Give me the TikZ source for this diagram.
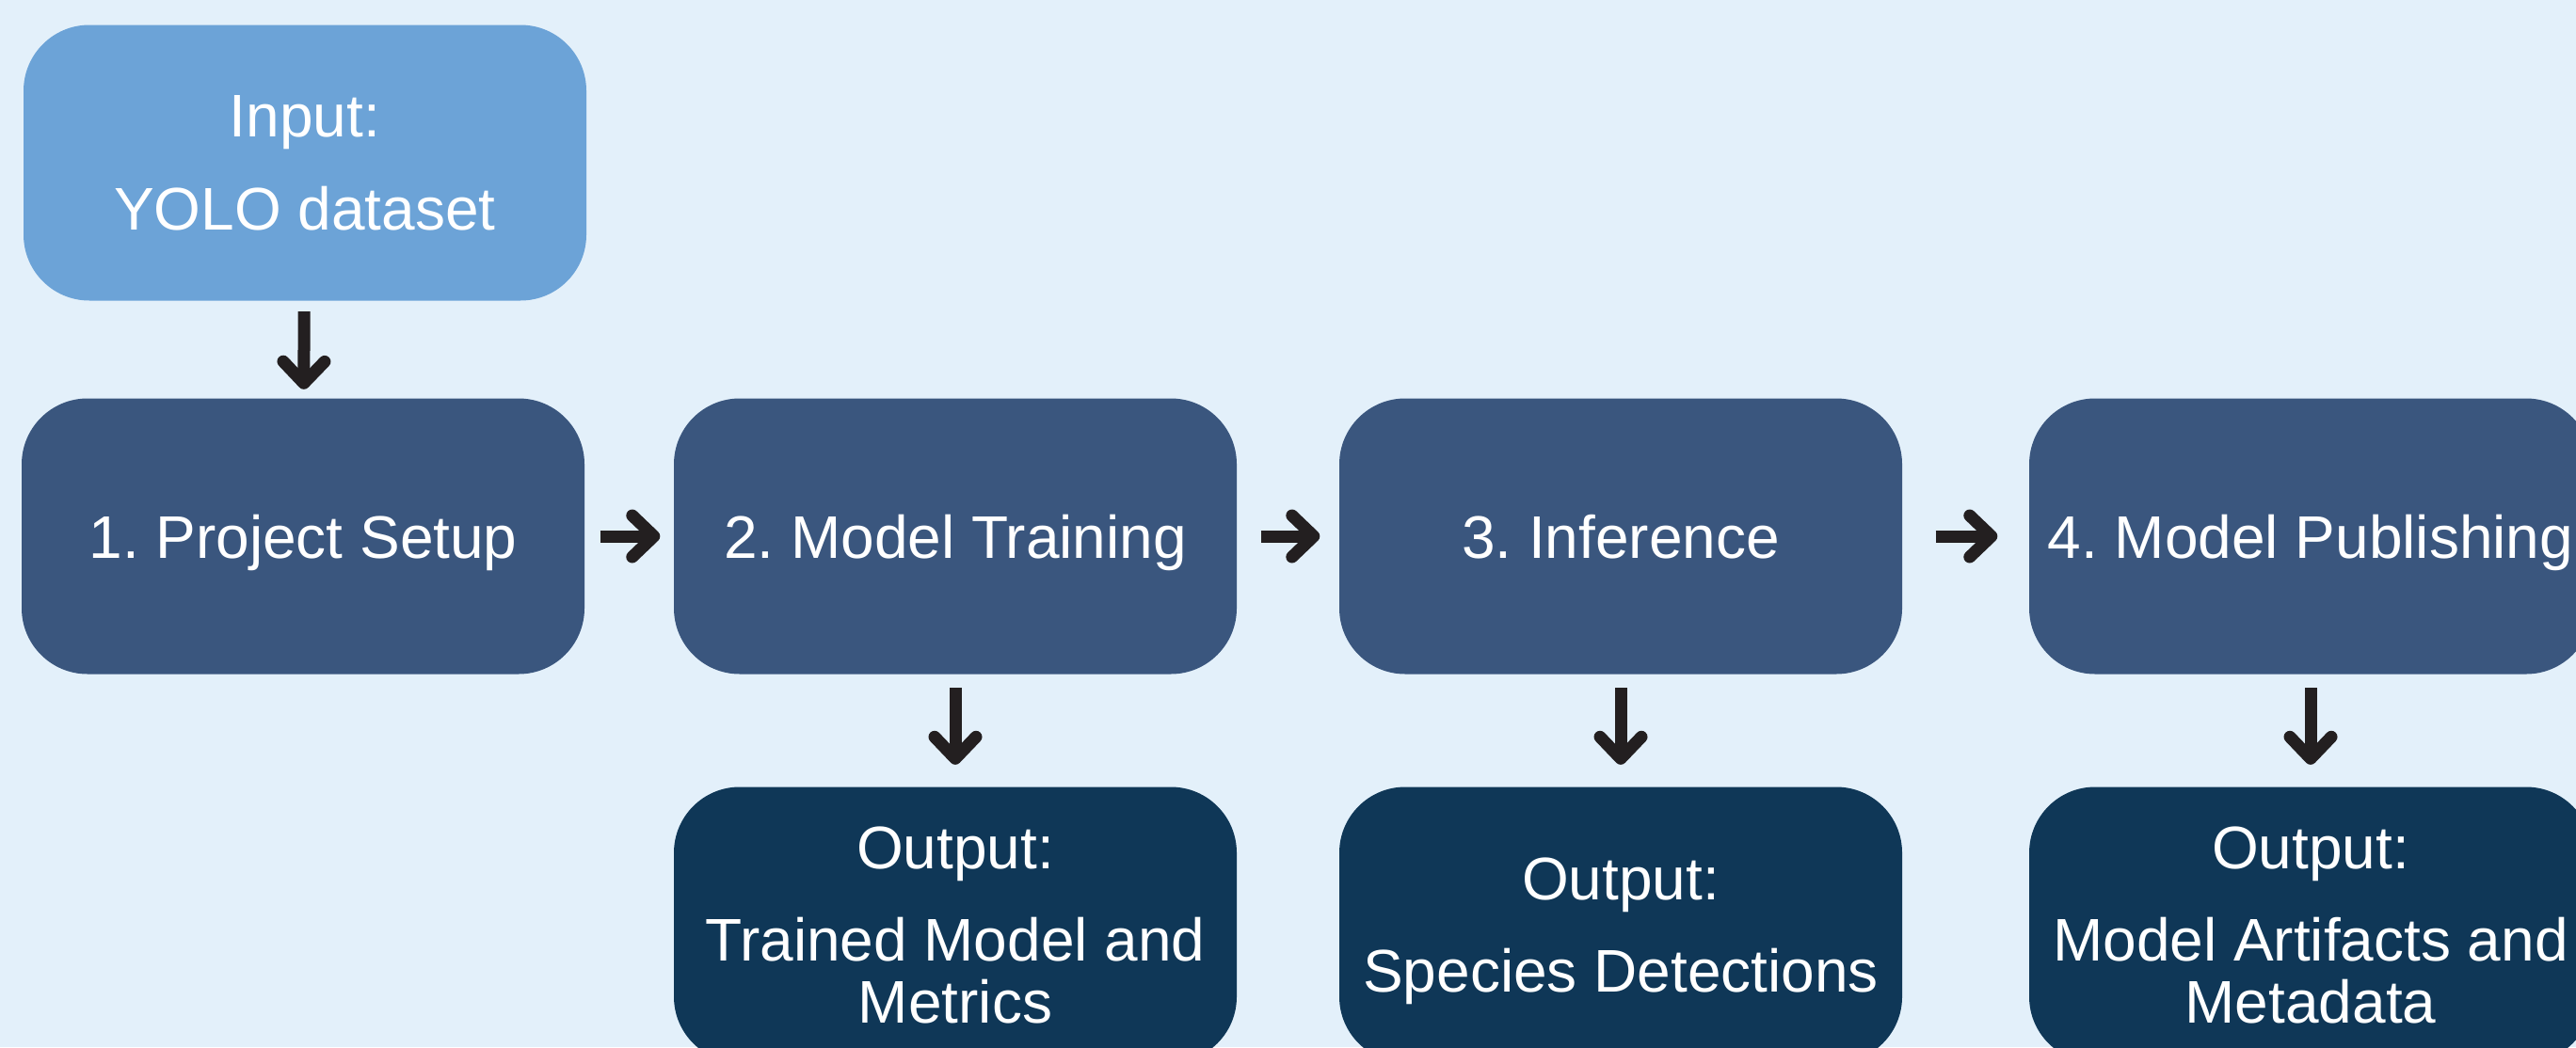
\documentclass[tikz,border=0pt]{standalone}
\usepackage{fontspec}
\setmainfont{Liberation Sans}
\usetikzlibrary{arrows.meta}
\definecolor{paper}{HTML}{E3F0FA}
\definecolor{sky}{HTML}{6CA3D7}
\definecolor{slate}{HTML}{3A567E}
\definecolor{navy}{HTML}{0F3757}
\definecolor{ink}{HTML}{231F20}
\frenchspacing

\begin{document}
\begin{tikzpicture}[
    box/.style={rounded corners=0.7cm,minimum width=5.98cm,minimum height=2.93cm,
      text=white,align=center,inner sep=0pt,text depth=0pt,
      font=\fontsize{18.2}{18.8}\selectfont},
    inbox/.style={box,fill=sky},
    stepbox/.style={box,fill=slate},
    outbox/.style={box,fill=navy},
    flow/.style={ink,line width=3.7pt,
      -{Straight Barb[length=2.3mm,width=4.4mm,line cap=round,line join=round]}}]
  \useasboundingbox (0,0) rectangle (27.37,11.13);
  \clip (0,0) rectangle (27.37,11.13);
  \fill[paper] (0,0) rectangle (27.37,11.13);

  \node[inbox] (input) at (3.24,9.40) {Input:\\[9.1pt]YOLO dataset};

  \node[stepbox] (setup) at (3.22,5.43) {1. Project Setup};
  \node[stepbox] (train) at (10.15,5.43) {2. Model Training};
  \node[stepbox] (infer) at (17.22,5.43) {3. Inference};
  \node[stepbox] (publish) at (24.55,5.43) {4. Model Publishing};

  \node[outbox] (trained) at (10.15,1.30)
    {Output:\\[9.1pt]Trained Model and\\Metrics};
  \node[outbox] (species) at (17.22,1.30)
    {Output:\\[9.1pt]Species Detections};
  \node[outbox] (artifacts) at (24.55,1.30)
    {Output:\\[9.1pt]Model Artifacts and\\Metadata};

  \draw[flow,shorten <=0.11cm,shorten >=0.09cm] (input) -- (setup);
  \draw[flow,shorten <=0.16cm,shorten >=0.14cm] (setup) -- (train);
  \draw[flow,shorten <=0.25cm,shorten >=0.20cm] (train) -- (infer);
  \draw[flow,shorten <=0.35cm,shorten >=0.33cm] (infer) -- (publish);

  \draw[flow,shorten <=0.14cm,shorten >=0.23cm] (train) -- (trained);
  \draw[flow,shorten <=0.14cm,shorten >=0.23cm] (infer) -- (species);
  \draw[flow,shorten <=0.14cm,shorten >=0.23cm] (publish) -- (artifacts);
\end{tikzpicture}
\end{document}
